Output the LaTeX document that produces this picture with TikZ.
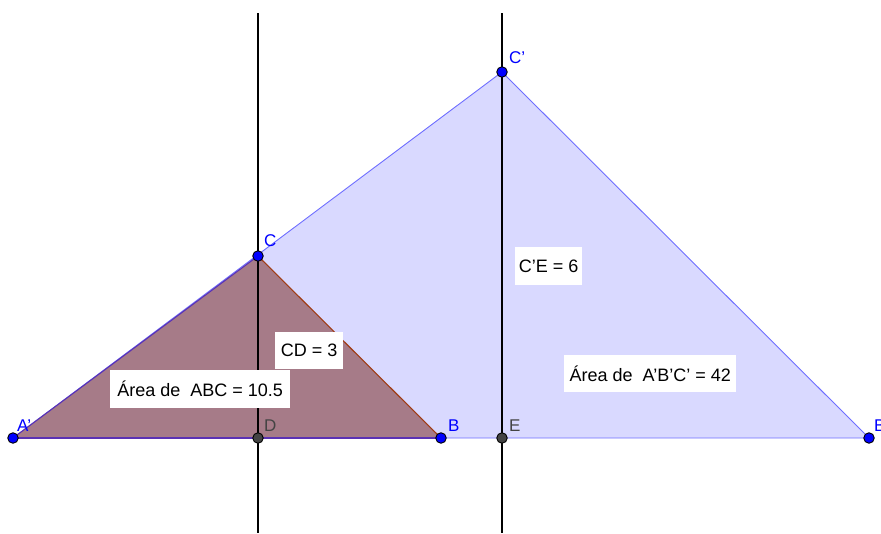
\documentclass[tikz,border=0pt]{standalone}
\usepackage{fontspec}
\setmainfont{Liberation Sans}
\definecolor{bluefill}{RGB}{217,217,255}
\definecolor{blueedge}{RGB}{110,110,255}
\definecolor{brownfill}{RGB}{166,123,136}
\definecolor{brownedge}{RGB}{160,60,20}
\definecolor{mixedge}{RGB}{90,50,180}
\definecolor{ptblue}{RGB}{0,0,255}
\definecolor{ptgray}{RGB}{68,68,68}
\newcommand{\apos}{\char39{}}
\begin{document}
\begin{tikzpicture}[x=1pt,y=-1pt,
  bpt/.style={circle,draw=black,line width=0.9pt,fill=ptblue,inner sep=0pt,minimum size=10.5pt},
  gpt/.style={circle,draw=black,line width=0.9pt,fill=ptgray,inner sep=0pt,minimum size=10.5pt},
  lbl/.style={font=\fontsize{17}{20}\selectfont,text=ptblue,inner sep=0pt,anchor=south west},
  glbl/.style={font=\fontsize{17}{20}\selectfont,text=ptgray,inner sep=0pt,anchor=south west},
  txt/.style={font=\fontsize{18}{21}\selectfont,inner sep=0pt},
  tbox/.style={fill=white,inner sep=0pt,anchor=north west}]
\useasboundingbox (0,0) rectangle (881,533);
% coordinates
\coordinate (A) at (13,438);
\coordinate (Dp) at (258,438);
\coordinate (Bp) at (441,438);
\coordinate (Ep) at (502,438);
\coordinate (B2) at (869,438);
\coordinate (Cp) at (258,256);
\coordinate (C2) at (502,72);
\coordinate (L1t) at (258,13);
\coordinate (L1b) at (258,533);
\coordinate (L2t) at (502,13);
\coordinate (L2b) at (502,533);
% big triangle
\fill[bluefill] (A) -- (B2) -- (C2) -- cycle;
\draw[blueedge,line width=0.9pt] (A) -- (B2) -- (C2) -- cycle;
% small triangle
\fill[brownfill] (A) -- (Bp) -- (Cp) -- cycle;
\draw[brownedge,line width=1.1pt] (Cp) -- (Bp);
\draw[mixedge,line width=1.1pt] (A) -- (Cp);
\draw[mixedge,line width=1.1pt] (A) -- (Bp);
% vertical lines
\draw[black,line width=1.4pt] (L1t) -- (L1b);
\draw[black,line width=1.4pt] (L2t) -- (L2b);
% text boxes
\node[tbox,minimum width=180pt,minimum height=38pt] (t1) at (110,370) {};
\node[txt] at (t1.center) {Área de\ \ ABC = 10.5};
\node[tbox,minimum width=68pt,minimum height=37pt] (t2) at (275,332) {};
\node[txt] at (t2.center) {CD = 3};
\node[tbox,minimum width=67pt,minimum height=38pt] (t3) at (515,247) {};
\node[txt] at (t3.center) {C\apos E = 6};
\node[tbox,minimum width=172pt,minimum height=37pt] (t4) at (564,355) {};
\node[txt] at (t4.center) {Área de\ \ A\apos B\apos C\apos{} = 42};
% points
\node[bpt] (pA) at (A) {};
\node[bpt] (pB) at (Bp) {};
\node[bpt] (pB2) at (B2) {};
\node[bpt] (pC) at (Cp) {};
\node[bpt] (pC2) at (C2) {};
\node[gpt] (pD) at (Dp) {};
\node[gpt] (pE) at (Ep) {};
% point labels
\node[lbl] (lA) at (17,432) {A\apos};
\node[lbl] (lC) at (264,247) {C};
\node[lbl] (lB) at (448,432) {B};
\node[lbl] (lC2) at (509,64) {C\apos};
\node[lbl] (lB2) at (874,432) {B\apos};
\node[glbl] (lD) at (264,432) {D};
\node[glbl] (lE) at (509,432) {E};
\end{tikzpicture}
\end{document}
